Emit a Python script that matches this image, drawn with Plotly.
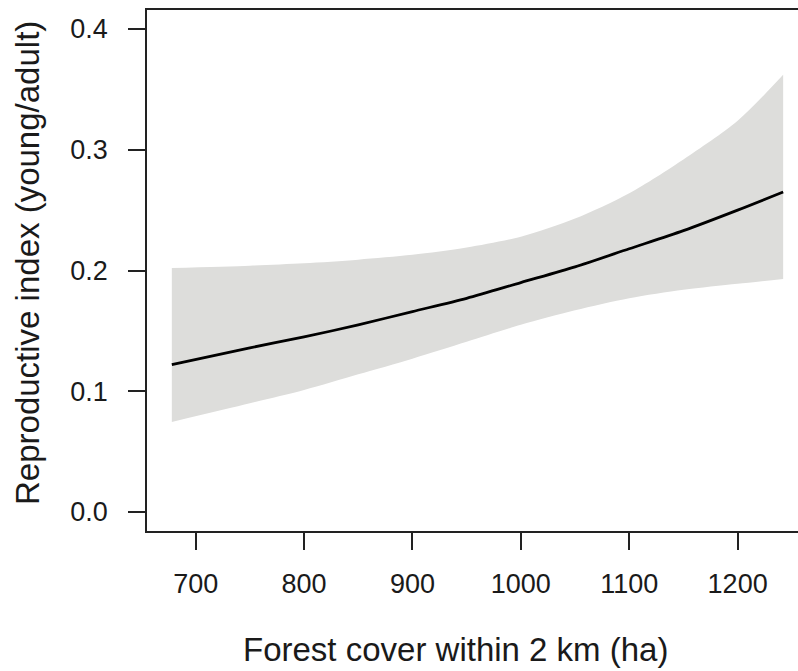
import plotly.graph_objects as go

# Fitted reproductive index vs forest cover, with 95% confidence band
forest_cover = [678, 750, 800, 850, 900, 950, 1000, 1050, 1100, 1150, 1200, 1242]
fit = [0.122, 0.136, 0.145, 0.155, 0.166, 0.177, 0.190, 0.203, 0.218, 0.233, 0.250, 0.265]
upper = [0.202, 0.204, 0.206, 0.209, 0.213, 0.219, 0.228, 0.243, 0.264, 0.292, 0.324, 0.362]
lower = [0.0746, 0.090, 0.101, 0.114, 0.127, 0.141, 0.155, 0.167, 0.177, 0.184, 0.189, 0.193]

x_ticks = [700, 800, 900, 1000, 1100, 1200]
y_ticks = [0.0, 0.1, 0.2, 0.3, 0.4]
y_tick_text = ["0.0", "0.1", "0.2", "0.3", "0.4"]

FONT = "Liberation Sans, Arial, sans-serif"
AXIS_COLOR = "#222222"
BAND_COLOR = "rgb(221,221,219)"

fig = go.Figure()

# Confidence band: lower bound, then upper bound filled down to it
fig.add_trace(go.Scatter(
    x=forest_cover,
    y=lower,
    mode="lines",
    line=dict(width=0, color=BAND_COLOR, shape="spline", smoothing=0.8),
    hoverinfo="skip",
    showlegend=False,
))
fig.add_trace(go.Scatter(
    x=forest_cover,
    y=upper,
    mode="lines",
    fill="tonexty",
    fillcolor=BAND_COLOR,
    line=dict(width=0, color=BAND_COLOR, shape="spline", smoothing=0.8),
    hoverinfo="skip",
    showlegend=False,
))

# Fitted curve
fig.add_trace(go.Scatter(
    x=forest_cover,
    y=fit,
    mode="lines",
    line=dict(color="black", width=2.8, shape="spline", smoothing=0.8),
    showlegend=False,
))

fig.update_xaxes(
    range=[655.1, 1255.7],
    tickvals=x_ticks,
    ticks="outside",
    ticklen=17,
    tickwidth=1.5,
    tickcolor=AXIS_COLOR,
    showline=True,
    linewidth=1.5,
    linecolor=AXIS_COLOR,
    mirror=True,
    showgrid=False,
    zeroline=False,
    tickfont=dict(family=FONT, size=27, color="#1a1a1a"),
    ticklabelstandoff=11,
)
fig.update_yaxes(
    range=[-0.0157, 0.4157],
    tickvals=y_ticks,
    ticktext=y_tick_text,
    ticks="outside",
    ticklen=17,
    tickwidth=1.5,
    tickcolor=AXIS_COLOR,
    showline=True,
    linewidth=1.5,
    linecolor=AXIS_COLOR,
    showgrid=False,
    zeroline=False,
    tickfont=dict(family=FONT, size=27, color="#1a1a1a"),
    ticklabelstandoff=15,
)

fig.add_annotation(
    text="Forest cover within 2 km (ha)",
    xref="paper", yref="paper",
    x=(455 - 147) / 651, y=(531 - 649) / 521,
    xanchor="center", yanchor="middle",
    showarrow=False,
    font=dict(family=FONT, size=33, color="#1a1a1a"),
)
fig.add_annotation(
    text="Reproductive index (young/adult)",
    xref="paper", yref="paper",
    x=(27 - 147) / 651, y=(531 - 263) / 521,
    xanchor="center", yanchor="middle",
    textangle=-90,
    showarrow=False,
    font=dict(family=FONT, size=33, color="#1a1a1a"),
)

fig.update_layout(
    width=798,
    height=671,
    margin=dict(l=147, r=0, t=10, b=140),
    paper_bgcolor="white",
    plot_bgcolor="white",
)

fig.write_html("out.html")
